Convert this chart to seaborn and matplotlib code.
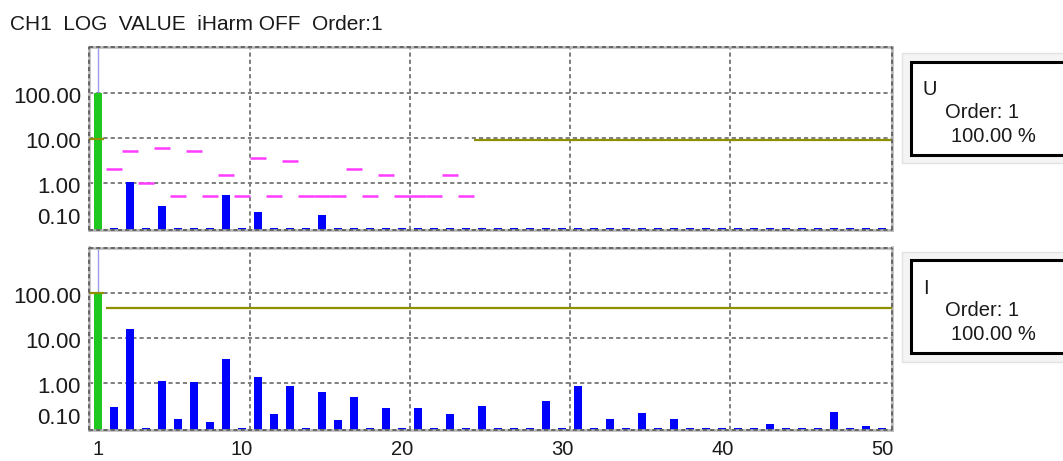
import matplotlib
matplotlib.use("Agg")
import matplotlib.pyplot as plt
from matplotlib.patches import Rectangle
import pandas as pd
import seaborn as sns

# ---- data -------------------------------------------------------------
orders = list(range(1, 51))

u_percent = [100.0, 0.10, 1.05, 0.10, 0.30, 0.10, 0.10, 0.10, 0.53, 0.10,
             0.22, 0.10, 0.10, 0.10, 0.19, 0.10, 0.10, 0.10, 0.10, 0.10,
             0.10, 0.10, 0.10, 0.10, 0.10, 0.10, 0.10, 0.10, 0.10, 0.10,
             0.10, 0.10, 0.10, 0.10, 0.10, 0.10, 0.10, 0.10, 0.10, 0.10,
             0.10, 0.10, 0.10, 0.10, 0.10, 0.10, 0.10, 0.10, 0.10, 0.10]

i_percent = [100.0, 0.29, 15.3, 0.10, 1.12, 0.16, 1.02, 0.136, 3.3, 0.10,
             1.38, 0.20, 0.86, 0.10, 0.64, 0.15, 0.48, 0.10, 0.27, 0.10,
             0.27, 0.10, 0.20, 0.10, 0.30, 0.10, 0.10, 0.10, 0.39, 0.10,
             0.84, 0.10, 0.16, 0.10, 0.21, 0.10, 0.16, 0.10, 0.10, 0.10,
             0.10, 0.10, 0.125, 0.10, 0.10, 0.10, 0.22, 0.10, 0.11, 0.10]

# per-order voltage harmonic limits (%)
u_limit_orders = list(range(2, 25))
u_limits = [2.0, 5.0, 1.0, 6.0, 0.5, 5.0, 0.5, 1.5, 0.5, 3.5, 0.5, 3.0,
            0.5, 0.5, 0.5, 2.0, 0.5, 1.5, 0.5, 0.5, 0.5, 1.5, 0.5]

u_high_limit = 9.0       # flat limit for the high orders
u_high_limit_from = 24.5
i_limit = 46.0
i_limit_from = 1.5
u_fund_marker = 9.5
i_fund_marker = 100.0

title = "CH1  LOG  VALUE  iHarm OFF  Order:1"
ytick_values = [0.1, 1, 10, 100]
ytick_labels = ["0.10", "1.00", "10.00", "100.00"]
xtick_values = [1, 10, 20, 30, 40, 50]
grid_x = [10.5, 20.5, 30.5, 40.5]
grid_y = [1, 10, 100]
channel_names = ["U", "I"]
cursor_order = 1
cursor_texts = ["Order: 1", "100.00 %"]

# ---- style ------------------------------------------------------------
GREEN = "#1ec81e"
BLUE = "#0000ff"
PINK = "#ff3cff"
OLIVE = "#8f8f00"
CURSOR = "#9c9cec"
GRID = "#7e7e7e"
TEXT = "#1a1a1a"

sns.set_style("white")
plt.rcParams["font.family"] = ["Liberation Sans", "DejaVu Sans"]

W, H = 1063, 461
fig = plt.figure(figsize=(W / 100, H / 100), dpi=100)
fig.patch.set_facecolor("white")


def fx(px):
    return px / W


def fy(py):
    return 1 - py / H


ax_u = fig.add_axes([fx(89), fy(230), fx(892) - fx(89), fy(47.5) - fy(230)])
ax_i = fig.add_axes([fx(89), fy(430), fx(892) - fx(89), fy(247.5) - fy(430)])

GRID_LW = 1.4
grid_ls = (0, (3.0 / GRID_LW, 2.2 / GRID_LW))


def draw_panel(ax, values, show_x):
    df = pd.DataFrame({
        "order": orders,
        "value": values,
        "kind": ["fund" if o == cursor_order else "harm" for o in orders],
    })
    ax.axvline(cursor_order, color=CURSOR, lw=1.0, zorder=0.6)
    sns.barplot(data=df, x="order", y="value", hue="kind",
                palette={"fund": GREEN, "harm": BLUE},
                native_scale=True, width=0.5, dodge=False, legend=False,
                saturation=1, linewidth=0, errorbar=None, ax=ax, zorder=2)
    ax.set_yscale("log")
    ax.set_ylim(0.09, 1000)
    ax.set_xlim(0.44, 50.6)
    ax.minorticks_off()

    for gy in grid_y:
        ax.axhline(gy, color=GRID, lw=GRID_LW, ls=grid_ls, zorder=0.5)
    for gx in grid_x:
        ax.axvline(gx, color=GRID, lw=GRID_LW, ls=grid_ls, zorder=0.5)

    # frame: light solid line with dashed overlay
    for sp in ax.spines.values():
        sp.set_visible(True)
        sp.set_color("#b4b4b4")
        sp.set_linewidth(1.8)
    for xs, ys in [([0, 1], [1, 1]), ([0, 1], [0, 0]), ([0, 0], [0, 1]), ([1, 1], [0, 1])]:
        ax.plot(xs, ys, transform=ax.transAxes, color="#666666", lw=GRID_LW,
                ls=grid_ls, clip_on=False, zorder=5)

    ax.set_yticks(ytick_values)
    ax.set_yticklabels([])
    for val, lab in zip(ytick_values, ytick_labels):
        dy = 9 if val == 0.1 else -4.5
        ax.annotate(lab, xy=(0, val), xycoords=ax.get_yaxis_transform(),
                    xytext=(-8, dy), textcoords="offset pixels",
                    ha="right", va="center", fontsize=16, color=TEXT)

    ax.set_xticks(xtick_values)
    if show_x:
        ax.set_xticklabels([str(v) for v in xtick_values], fontsize=14.5, color=TEXT)
        ax.tick_params(axis="x", length=0, pad=7)
    else:
        ax.tick_params(axis="x", length=0, labelbottom=False)
    ax.tick_params(axis="y", length=0)
    ax.set_xlabel("")
    ax.set_ylabel("")


draw_panel(ax_u, u_percent, show_x=False)
draw_panel(ax_i, i_percent, show_x=True)

# limit lines
ax_u.hlines(u_limits, [o - 0.5 for o in u_limit_orders], [o + 0.5 for o in u_limit_orders],
            color=PINK, lw=1.8, zorder=3)
ax_u.hlines(u_high_limit, u_high_limit_from, 50.6, color=OLIVE, lw=1.6, zorder=3)
ax_u.hlines(u_fund_marker, 0.44, 1.4, color=OLIVE, lw=1.6, zorder=3)
ax_i.hlines(i_limit, i_limit_from, 50.6, color=OLIVE, lw=1.6, zorder=3)
ax_i.hlines(i_fund_marker, 0.44, 1.4, color=OLIVE, lw=1.6, zorder=3)

# header
fig.text(fx(10), fy(25), title, ha="left", va="center", fontsize=15, color=TEXT)

# cursor readout boxes
for name, (y_out0, y_out1, y_in0, y_in1) in zip(
        channel_names, [(53, 163, 61.7, 155), (252, 362, 260, 353.3)]):
    fig.patches.append(Rectangle((fx(901.7), fy(y_out1)), fx(1100) - fx(901.7), fy(y_out0) - fy(y_out1),
                                 transform=fig.transFigure, facecolor="#f4f4f4",
                                 edgecolor="#e2e2e2", lw=1.0, zorder=1))
    fig.patches.append(Rectangle((fx(910.7), fy(y_in1)), fx(1100) - fx(910.7), fy(y_in0) - fy(y_in1),
                                 transform=fig.transFigure, facecolor="white",
                                 edgecolor="black", lw=2.2, zorder=2))
    fig.text(fx(923), fy(y_in0 + 28), name, ha="left", va="center", fontsize=14.5, color=TEXT, zorder=3)
    fig.text(fx(945), fy(y_in0 + 51), cursor_texts[0], ha="left", va="center", fontsize=14.5, color=TEXT, zorder=3)
    fig.text(fx(951), fy(y_in0 + 75), cursor_texts[1], ha="left", va="center", fontsize=14.5, color=TEXT, zorder=3)

fig.savefig("out.png", dpi=100, facecolor="white")
